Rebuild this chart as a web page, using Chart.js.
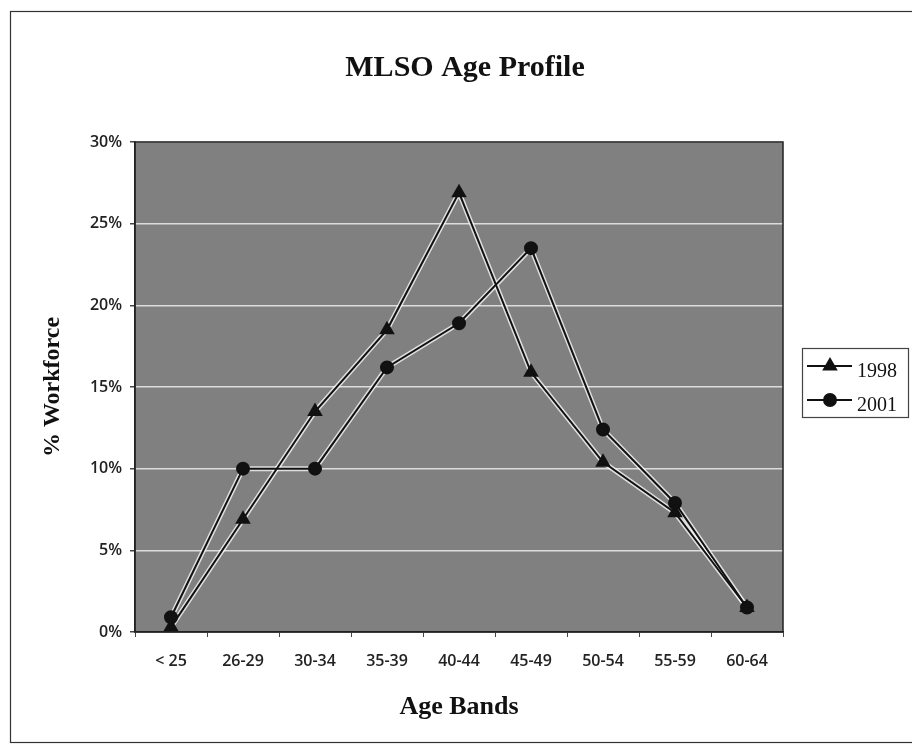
<!DOCTYPE html>
<html>
<head>
<meta charset="utf-8">
<script src="https://cdn.jsdelivr.net/npm/chart.js@4.4.1/dist/chart.umd.min.js"></script>
<style>
  html, body { margin: 0; padding: 0; background: #fff; }
  #wrap { width: 912px; height: 745px; }
</style>
</head>
<body>
<div id="wrap"><canvas id="myChart" width="912" height="745"></canvas></div>
<script>
// age bands and % of workforce per year
const ageBands = ['< 25', '26-29', '30-34', '35-39', '40-44', '45-49', '50-54', '55-59', '60-64'];
const pct1998 = [0.3, 6.9, 13.5, 18.5, 26.9, 15.9, 10.4, 7.3, 1.5];
const pct2001 = [0.9, 10.0, 10.0, 16.2, 18.9, 23.5, 12.4, 7.9, 1.5];
const yTicks = [0, 5, 10, 15, 20, 25, 30];

const serif = '"Liberation Serif", "DejaVu Serif", serif';
const sans = '"Open Sans", "DejaVu Sans", sans-serif';

// grey plot background, plot border and the outer frame
const framePlugin = {
    id: 'frame',
    beforeDraw(chart) {
        const {ctx, chartArea: a} = chart;
        ctx.save();
        ctx.fillStyle = '#808080';
        ctx.fillRect(a.left, a.top, a.right - a.left, a.bottom - a.top);
        ctx.restore();
    },
    afterDraw(chart) {
        const {ctx, chartArea: a} = chart;
        ctx.save();
        ctx.strokeStyle = '#222';
        ctx.lineWidth = 1.5;
        ctx.strokeRect(a.left, a.top, a.right - a.left, a.bottom - a.top);
        ctx.strokeStyle = '#333';
        ctx.lineWidth = 1.2;
        ctx.strokeRect(10.5, 11.5, 920, 731);
        ctx.restore();
    }
};

// legend box with line + marker samples
const legendPlugin = {
    id: 'boxLegend',
    afterDraw(chart) {
        const ctx = chart.ctx;
        const x0 = 802, y0 = 348, w = 106, h = 69;
        ctx.save();
        ctx.fillStyle = '#fff';
        ctx.fillRect(x0, y0, w, h);
        ctx.strokeStyle = '#444';
        ctx.lineWidth = 1.2;
        ctx.strokeRect(x0 + 0.5, y0 + 0.5, w, h);
        chart.data.datasets.filter(ds => !ds.halo).forEach((ds, i) => {
            const y = y0 + 18 + i * 34;
            ctx.strokeStyle = '#111';
            ctx.fillStyle = '#111';
            ctx.lineWidth = 2;
            ctx.beginPath();
            ctx.moveTo(x0 + 5, y);
            ctx.lineTo(x0 + 50, y);
            ctx.stroke();
            Chart.helpers.drawPoint(ctx, {pointStyle: ds.pointStyle, radius: ds.pointRadius, borderWidth: 1}, x0 + 28, y);
            ctx.font = '20px ' + serif;
            ctx.textBaseline = 'middle';
            ctx.fillText(ds.label, x0 + 55, y + 6);
        });
        ctx.restore();
    }
};

function makeSet(label, values, style, size) {
    return {
        label: label,
        data: values,
        borderColor: '#111',
        borderWidth: 2,
        pointStyle: style,
        pointRadius: size,
        pointBackgroundColor: '#111',
        pointBorderColor: '#111',
        tension: 0,
        order: 1
    };
}

// pale line under each series, like the white edge in the scan
function haloSet(values) {
    return {
        label: '',
        halo: true,
        data: values,
        borderColor: 'rgba(255,255,255,0.75)',
        borderWidth: 5,
        pointRadius: 0,
        tension: 0,
        order: 2
    };
}

new Chart('myChart', {
    type: 'line',
    data: {
        labels: ageBands,
        datasets: [
            makeSet('1998', pct1998, 'triangle', 7),
            makeSet('2001', pct2001, 'circle', 6),
            haloSet(pct1998),
            haloSet(pct2001)
        ]
    },
    options: {
        responsive: false,
        animation: false,
        layout: { padding: { left: 18, right: 0, top: 0, bottom: 0 } },
        plugins: {
            legend: { display: false },
            tooltip: { enabled: false },
            title: {
                display: true,
                text: 'MLSO Age Profile',
                color: '#111',
                font: { family: serif, size: 30, weight: 'bold' },
                padding: { top: 50, bottom: 56 }
            }
        },
        scales: {
            x: {
                offset: true,
                afterFit(scale) { scale.height = 113; },
                grid: { offset: true, drawOnChartArea: false, tickLength: 5, tickColor: '#444' },
                border: { color: '#222', width: 1.5 },
                ticks: { color: '#222', padding: 15, font: { family: sans, size: 16, weight: '600' } },
                title: {
                    display: true,
                    text: 'Age Bands',
                    color: '#111',
                    font: { family: serif, size: 26, weight: 'bold' },
                    padding: { bottom: 22 }
                }
            },
            y: {
                min: 0,
                max: 30,
                afterFit(scale) { scale.width = 117; },
                afterBuildTicks(scale) { scale.ticks = yTicks.map(v => ({ value: v })); },
                grid: { color: '#dcdcdc', lineWidth: 1.5, tickLength: 5, tickColor: '#444' },
                border: { color: '#222', width: 1.5 },
                ticks: {
                    color: '#222',
                    padding: 8,
                    font: { family: sans, size: 16, weight: '600' },
                    callback: v => v + '%'
                },
                title: {
                    display: true,
                    text: '% Workforce',
                    color: '#111',
                    font: { family: serif, size: 24, weight: 'bold' },
                    padding: { top: 20 }
                }
            },
            // empty axis that keeps room for the legend on the right
            side: {
                position: 'right',
                display: true,
                afterFit(scale) { scale.width = 129; },
                grid: { display: false },
                border: { display: false },
                ticks: { display: false }
            }
        }
    },
    plugins: [framePlugin, legendPlugin]
});
</script>
</body>
</html>
